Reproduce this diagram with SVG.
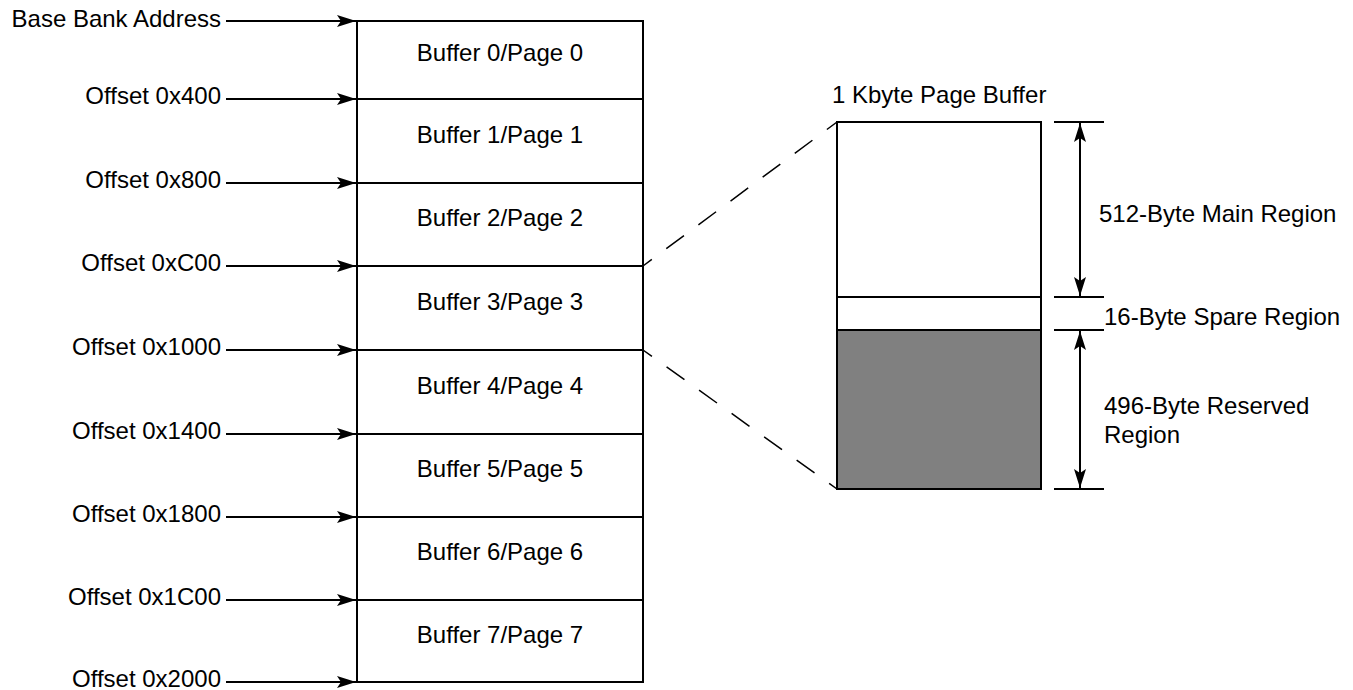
<svg xmlns="http://www.w3.org/2000/svg" width="1353" height="690" viewBox="0 0 1353 690">
<style>
text{font-family:"Liberation Sans",Arial,sans-serif;font-size:24px;fill:#000}
.lbl{text-anchor:end}
.mid{text-anchor:middle}
.ln{stroke:#000;stroke-width:2;fill:none}
.box{stroke:#000;stroke-width:2;fill:#fff}
.dash{stroke:#000;stroke-width:1.5;fill:none;stroke-dasharray:22 18;stroke-dashoffset:11}
</style>
<defs>
<marker id="ah" markerUnits="userSpaceOnUse" markerWidth="20" markerHeight="13" refX="19" refY="6" orient="auto-start-reverse" overflow="visible">
<path d="M0,0 L19,6 L0,12 L4,6 Z" fill="#000"/>
</marker>
</defs>
<rect width="1353" height="690" fill="#fff"/>
<g id="memory-map">
<rect class="box" x="357" y="21" width="286" height="661"/>
<g id="buffer0"><text class="mid" x="500" y="61">Buffer 0/Page 0</text></g>
<g id="buffer1"><line class="ln" x1="357" y1="99" x2="643" y2="99"/><text class="mid" x="500" y="142.5">Buffer 1/Page 1</text></g>
<g id="buffer2"><line class="ln" x1="357" y1="183" x2="643" y2="183"/><text class="mid" x="500" y="226">Buffer 2/Page 2</text></g>
<g id="buffer3"><line class="ln" x1="357" y1="266" x2="643" y2="266"/><text class="mid" x="500" y="309.5">Buffer 3/Page 3</text></g>
<g id="buffer4"><line class="ln" x1="357" y1="350" x2="643" y2="350"/><text class="mid" x="500" y="393.5">Buffer 4/Page 4</text></g>
<g id="buffer5"><line class="ln" x1="357" y1="434" x2="643" y2="434"/><text class="mid" x="500" y="477">Buffer 5/Page 5</text></g>
<g id="buffer6"><line class="ln" x1="357" y1="517" x2="643" y2="517"/><text class="mid" x="500" y="560">Buffer 6/Page 6</text></g>
<g id="buffer7"><line class="ln" x1="357" y1="600" x2="643" y2="600"/><text class="mid" x="500" y="642.5">Buffer 7/Page 7</text></g>
</g>
<g id="offset-labels">
<text class="lbl" x="221" y="26.5">Base Bank Address</text>
<text class="lbl" x="221" y="104">Offset 0x400</text>
<text class="lbl" x="221" y="188">Offset 0x800</text>
<text class="lbl" x="221" y="271">Offset 0xC00</text>
<text class="lbl" x="221" y="355">Offset 0x1000</text>
<text class="lbl" x="221" y="439">Offset 0x1400</text>
<text class="lbl" x="221" y="522">Offset 0x1800</text>
<text class="lbl" x="221" y="605">Offset 0x1C00</text>
<text class="lbl" x="221" y="687">Offset 0x2000</text>
</g>
<g id="page-buffer">
<text x="832" y="102.7">1 Kbyte Page Buffer</text>
<rect class="box" x="837" y="122" width="204" height="175"/>
<rect class="box" x="837" y="297" width="204" height="33"/>
<rect x="837" y="330" width="204" height="159" fill="#808080" stroke="#000" stroke-width="2"/>
</g>
<g id="dimension-labels">
<text x="1099" y="222">512-Byte Main Region</text>
<text x="1104" y="324.5">16-Byte Spare Region</text>
<text x="1104" y="414">496-Byte Reserved</text>
<text x="1104" y="442.5">Region</text>
</g>
<g id="connectors">
<line class="ln" x1="226" y1="21" x2="356" y2="21" marker-end="url(#ah)"/>
<line class="ln" x1="226" y1="99" x2="356" y2="99" marker-end="url(#ah)"/>
<line class="ln" x1="226" y1="183" x2="356" y2="183" marker-end="url(#ah)"/>
<line class="ln" x1="226" y1="266" x2="356" y2="266" marker-end="url(#ah)"/>
<line class="ln" x1="226" y1="350" x2="356" y2="350" marker-end="url(#ah)"/>
<line class="ln" x1="226" y1="434" x2="356" y2="434" marker-end="url(#ah)"/>
<line class="ln" x1="226" y1="517" x2="356" y2="517" marker-end="url(#ah)"/>
<line class="ln" x1="226" y1="600" x2="356" y2="600" marker-end="url(#ah)"/>
<line class="ln" x1="226" y1="682" x2="356" y2="682" marker-end="url(#ah)"/>
<line class="dash" x1="643" y1="266" x2="837" y2="122"/>
<line class="dash" x1="643" y1="350" x2="837" y2="489"/>
<line class="ln" x1="1054" y1="122" x2="1104" y2="122"/>
<line class="ln" x1="1054" y1="297" x2="1104" y2="297"/>
<line class="ln" x1="1054" y1="330" x2="1104" y2="330"/>
<line class="ln" x1="1054" y1="489" x2="1104" y2="489"/>
<line class="ln" x1="1080" y1="123" x2="1080" y2="296" marker-start="url(#ah)" marker-end="url(#ah)"/>
<line class="ln" x1="1080" y1="331" x2="1080" y2="488" marker-start="url(#ah)" marker-end="url(#ah)"/>
</g>
</svg>
